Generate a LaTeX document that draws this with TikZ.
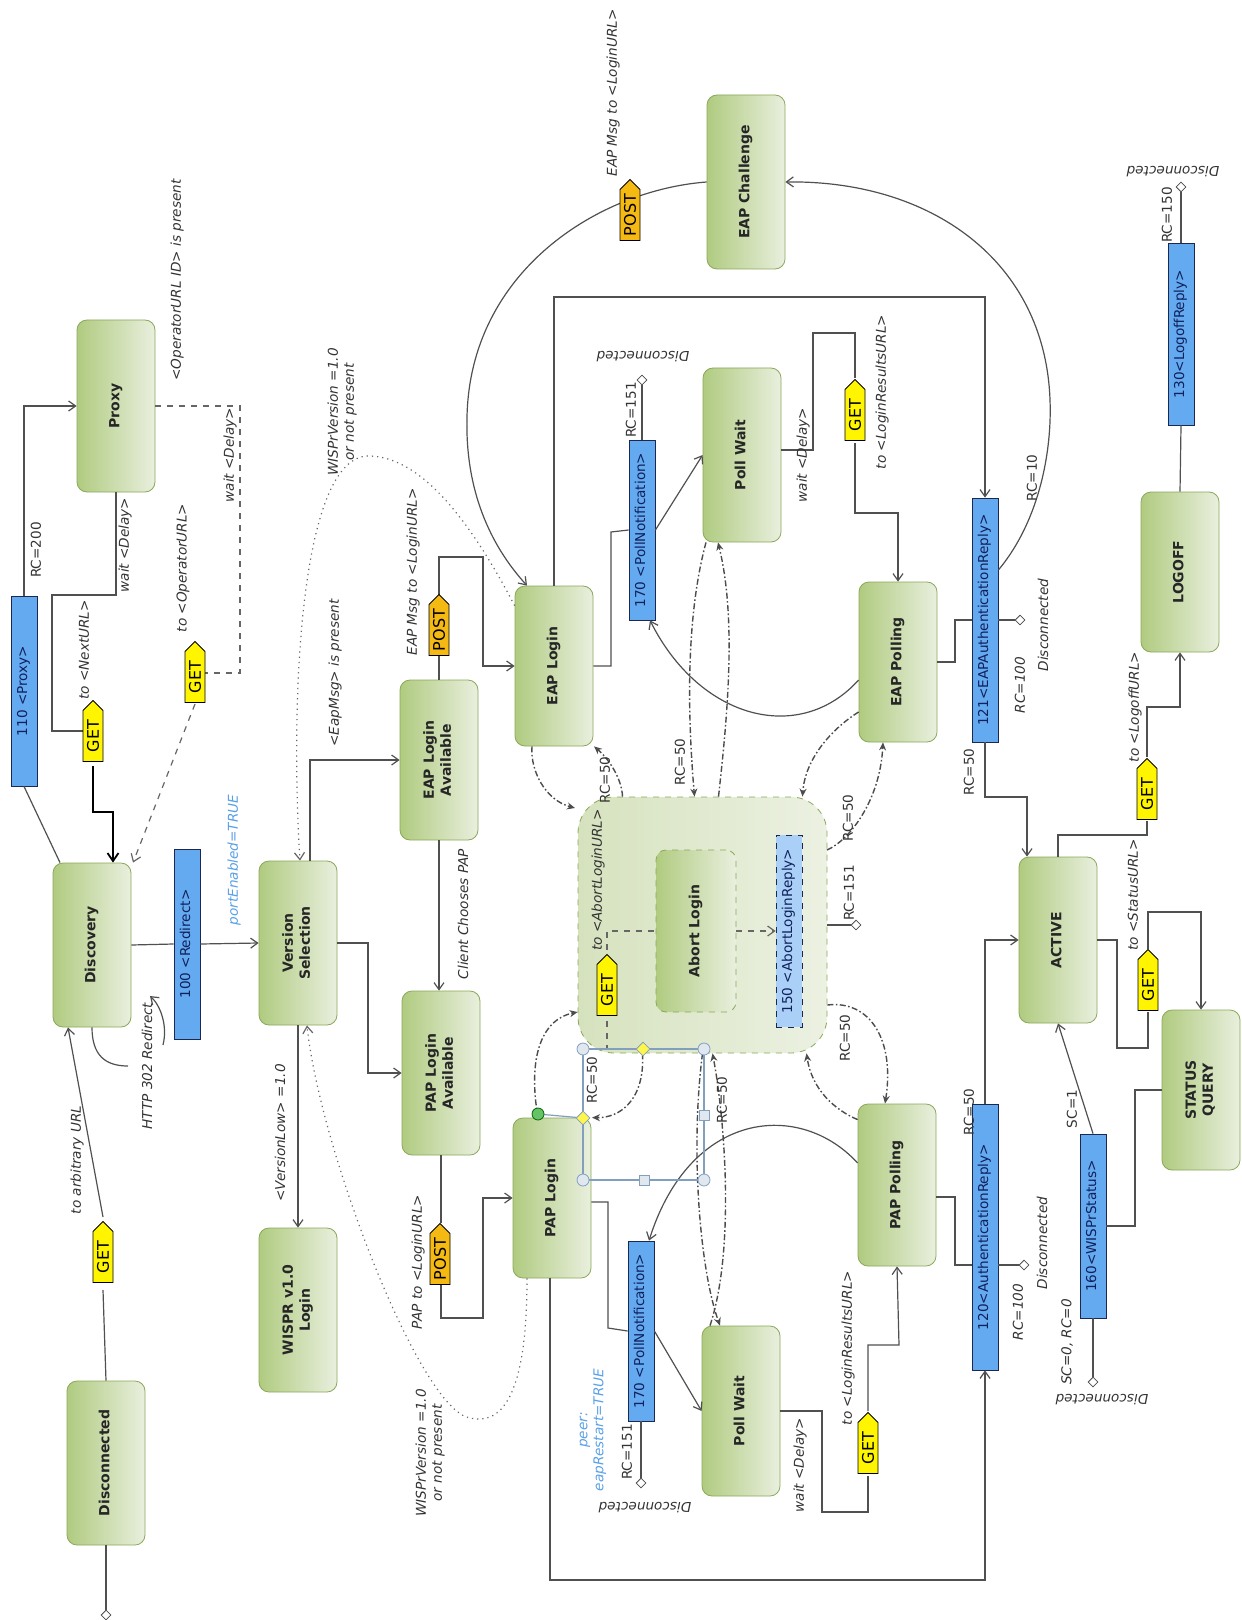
\documentclass[tikz,border=0pt]{standalone}
\usepackage{fontspec}
\setmainfont{DejaVu Sans}
\usetikzlibrary{arrows.meta,shapes.geometric,shapes.symbols}
\definecolor{stdark}{RGB}{176,203,128}
\definecolor{stlight}{RGB}{233,239,222}
\definecolor{stline}{RGB}{138,168,88}
\definecolor{boxdark}{RGB}{214,226,190}
\definecolor{boxlight}{RGB}{236,241,226}
\definecolor{msgfill}{RGB}{100,170,240}
\definecolor{msgline}{RGB}{28,40,80}
\definecolor{msgtext}{RGB}{16,32,90}
\definecolor{getfill}{RGB}{255,245,0}
\definecolor{postfill}{RGB}{245,185,20}
\definecolor{lnc}{RGB}{80,80,80}
\definecolor{hint}{RGB}{90,160,230}
\definecolor{selc}{RGB}{130,160,190}
\def\rottext#1{\rotatebox{90}{\begin{tabular}{@{}c@{}}#1\end{tabular}}}
\tikzset{
 state/.style={draw=stline, rounded corners=5pt, left color=stdark, right color=stlight, minimum width=39pt, minimum height=82pt, inner sep=1pt, font=\fontsize{7}{8.4}\selectfont\bfseries, text=black!85},
 abortbox/.style={draw=stline, dashed, rounded corners=18pt, left color=boxdark, right color=boxlight, minimum width=124.5pt, minimum height=128pt},
 msg/.style={draw=msgline, fill=msgfill, minimum width=13pt, inner sep=0.5pt, font=\fontsize{6.8}{8}\selectfont, text=msgtext},
 tag/.style={shape=signal, signal to=north, signal pointer angle=90, draw=black, minimum width=10pt, minimum height=29pt, inner sep=0.5pt, font=\fontsize{8}{9}\selectfont},
 gettag/.style={tag, fill=getfill},
 posttag/.style={tag, fill=postfill},
 term/.style={diamond, draw=black!70, fill=white, inner sep=0pt, minimum size=5pt},
 lbl/.style={rotate=90, inner sep=0.5pt, font=\fontsize{6.8}{8}\selectfont\itshape, text=black!80, align=center},
 lblu/.style={rotate=90, inner sep=0.5pt, font=\fontsize{6.8}{8}\selectfont, text=black!80, align=center},
 lblr/.style={rotate=180, inner sep=0.5pt, font=\fontsize{6.8}{8}\selectfont\itshape, text=black!80},
 ln/.style={draw=lnc, line width=0.6pt},
 arr/.style={ln, -{Straight Barb[length=3.5pt,width=5pt]}},
 boldarr/.style={draw=black, line width=0.9pt, -{Straight Barb[length=4pt,width=5.5pt]}},
 dln/.style={draw=black!60, dashed, line width=0.6pt},
 darr/.style={dln, -{Straight Barb[length=3.5pt,width=5pt]}},
 dotarr/.style={draw=black!60, dotted, line width=0.6pt, -{Straight Barb[length=3.5pt,width=5pt]}},
 carr/.style={draw=black!70, dash pattern=on 3pt off 1.2pt on 0.8pt off 1.2pt, line width=0.7pt, -{Stealth[length=4pt,width=3.5pt]}},
 hcirc/.style={circle, draw=selc, fill=selc!25, inner sep=0pt, minimum size=6pt},
 hdiam/.style={diamond, draw=selc, fill=yellow!70, inner sep=0pt, minimum size=7pt},
 hsq/.style={rectangle, draw=selc, fill=selc!25, inner sep=0pt, minimum size=5pt}
}
\begin{document}
\begin{tikzpicture}[x=0.5pt,y=-0.5pt]
\useasboundingbox (0,0) rectangle (1241,1620);
\node[abortbox] (abox) at (702.5,925) {};
\node[state] (dis) at (106,1463) {\rottext{Disconnected}};
\node[state] (wispr) at (298,1310) {\rottext{WISPR v1.0\\Login}};
\node[state] (discov) at (92,945) {\rottext{Discovery}};
\node[state] (vsel) at (298,943) {\rottext{Version\\Selection}};
\node[state, minimum height=86pt] (proxy) at (116,406) {\rottext{Proxy}};
\node[state, minimum height=80pt] (eapav) at (439,760) {\rottext{EAP Login\\Available}};
\node[state] (papav) at (441,1073) {\rottext{PAP Login\\Available}};
\node[state, minimum height=80pt] (eaplog) at (554,666) {\rottext{EAP Login}};
\node[state, minimum height=80pt] (paplog) at (552,1198) {\rottext{PAP Login}};
\node[state, minimum height=87pt] (pwup) at (742,455) {\rottext{Poll Wait}};
\node[state, minimum height=85pt] (pwlo) at (741,1411) {\rottext{Poll Wait}};
\node[state, minimum height=80pt] (eappol) at (898,662) {\rottext{EAP Polling}};
\node[state, minimum height=81pt] (pappol) at (897,1185) {\rottext{PAP Polling}};
\node[state, minimum height=87pt] (eapch) at (746,182) {\rottext{EAP Challenge}};
\node[state, minimum height=83pt] (active) at (1058,940) {\rottext{ACTIVE}};
\node[state, minimum height=80pt] (statq) at (1201,1090) {\rottext{STATUS\\QUERY}};
\node[state, minimum height=80pt] (logoff) at (1180,572) {\rottext{LOGOFF}};
\node[state, dashed, minimum width=40pt, minimum height=81pt] (abort) at (696,931) {\rottext{Abort Login}};

\node[msg, minimum height=95pt] (m110) at (24,691) {\rottext{110 <Proxy>}};
\node[msg, minimum height=95pt] (m100) at (187,944) {\rottext{100 <Redirect>}};
\node[msg, minimum height=90pt] (m170a) at (642,530) {\rottext{170 <PollNotification>}};
\node[msg, minimum height=90pt] (m170b) at (641,1331) {\rottext{170 <PollNotification>}};
\node[msg, minimum height=122pt] (m121) at (985,620) {\rottext{121<EAPAuthenticationReply>}};
\node[msg, minimum height=133pt] (m120) at (985,1237) {\rottext{120<AuthenticationReply>}};
\node[msg, minimum height=92pt] (m160) at (1093,1226) {\rottext{160<WISPrStatus>}};
\node[msg, minimum height=91pt] (m130) at (1181,334) {\rottext{130<LogoffReply>}};
\node[msg, dashed, fill=msgfill!55, minimum height=96pt] (m150) at (789,931) {\rottext{150 <AbortLoginReply>}};

\node[term] (t0) at (106,1615) {};
\node[term] (t1) at (642,380) {};
\node[term] (t2) at (641,1483) {};
\node[term] (t3) at (1020,620) {};
\node[term] (t4) at (1024,1265) {};
\node[term] (t5) at (1093,1382) {};
\node[term] (t6) at (1181,187) {};
\node[term] (t7) at (856,925) {};

% connectors
\draw[ln] (dis.south) -- (t0);
\draw[ln] (dis.north) -- (103,1290);
\draw[arr] (103,1217) -- ([xshift=-12pt]discov.south);
\draw[ln] ([xshift=-16pt]discov.north) -- (m110.south);
\draw[arr] (m110.north) |- (proxy.west);
\draw[ln] (proxy.south) -- (116,595) -- (52,595) |- (93,731);
\draw[boldarr] (93,766) |- (113,812) -- ([xshift=10.5pt]discov.north);
\draw[dln] (proxy.east) -| (240,673) -- (205,673);
\draw[darr] (195,704) -- ([xshift=20.5pt]discov.north);
\draw[ln] (discov.east) -- (m100.west);
\draw[arr] (m100.east) -- (vsel.west);
\draw[ln] (discov.south) .. controls (92,1055) and (105,1066) .. (128,1066);
\draw[arr] (163,1045) .. controls (168,1025) and (160,1005) .. (150,996);
\draw[arr] (vsel.south) -- (wispr.north);
\draw[dotarr] ([xshift=-12.5pt]paplog.south) .. controls (527,1400) and (500,1425) .. (470,1418) .. controls (420,1410) and (320,1150) .. ([xshift=4.5pt]vsel.south);
\draw[dotarr] ([yshift=-10pt]eaplog.north west) .. controls (470,520) and (420,455) .. (367,456) .. controls (300,460) and (290,700) .. ([xshift=1pt]vsel.north);
\draw[arr] ([xshift=6pt]vsel.north) |- (eapav.west);
\draw[arr] (vsel.east) -- (368,943) |- (papav.west);
\draw[arr] (eapav.south) -- (eapav.south |- papav.north);
\draw[ln] (eapav.north) -- (439,654);
\draw[arr] (439,595) |- (483,557) |- (eaplog.west);
\draw[ln] (papav.south) -- (441,1223);
\draw[arr] (441,1284) |- (483,1318) |- (paplog.west);
\draw[ln] (eaplog.east) -| (611,532) -- (m170a.west);
\draw[arr] (m170a.east) -- (pwup.west);
\draw[ln] (m170a.north) -- (t1);
\draw[ln] ([yshift=2.5pt]pwup.east) -| (813,333) -| (855,378);
\draw[arr] (855,443) |- (898,513) -- (eappol.north);
\draw[ln] (eappol.east) -| (955,620) -- (m121.west);
\draw[ln] (m121.east) -- (t3);
\draw[arr] (eaplog.north) |- (985,297) -- (m121.north);
\draw[arr] ([yshift=25pt]m121.east) .. controls (1040,520) and (1052,450) .. (1050,400) .. controls (1045,260) and (930,180) .. (eapch.east);
\draw[arr] (eapch.west) .. controls (600,190) and (470,270) .. (467,417) .. controls (465,490) and (490,545) .. ([xshift=-13.5pt]eaplog.north);
\draw[arr] ([yshift=-9pt]eappol.west) .. controls (800,745) and (700,720) .. ([xshift=4pt]m170a.south);
\draw[arr] ([yshift=11pt]pappol.west) .. controls (800,1100) and (690,1110) .. ([xshift=4pt]m170b.north);
\draw[ln] ([yshift=-2pt]paplog.east) -| (608,1328) -- (m170b.west);
\draw[arr] (m170b.east) -- (pwlo.west);
\draw[ln] (m170b.south) -- (t2);
\draw[ln] (pwlo.east) -- (822,1411) |- (868,1512) -- (868,1476);
\draw[arr] (868,1411) |- (899,1345) -- (pappol.south);
\draw[ln] ([yshift=-6pt]pappol.east) -| (955,1265) -- ([yshift=-14pt]m120.west);
\draw[ln] ([yshift=-14pt]m120.east) -- (t4);
\draw[arr] (m120.north) |- (active.west);
\draw[arr] ([xshift=-1pt]paplog.south) |- (985,1580) -- (m120.south);
\draw[arr] (m121.south) |- (1027,797) -- ([xshift=-15.5pt]active.north);
\draw[ln] (active.north) |- (1147,835) -- (1147,821);
\draw[arr] (1147,757) |- (1180,707) -- (logoff.south);
\draw[ln] (logoff.north) -- (m130.south);
\draw[ln] (m130.north) -- (t6);
\draw[ln] (active.east) -| (1117,1048) -| (1148,1012);
\draw[arr] (1148,949) -- (1148,912) -| (statq.north);
\draw[ln] (statq.west) -| (1135,1226) -- (m160.east);
\draw[arr] (m160.north) -- (active.south);
\draw[ln] (m160.south) -- (t5);
\draw[ln] (abox.east) -- (t7);

% abort box inside
\draw[dln] (607,950) |- (abort.west);
\draw[dln] (607,1021) -- (607,1049);
\draw[darr] (abort.east) -- (m150.west);

% RC=50 loops round the abort box
\draw[carr] ([xshift=-11pt]eaplog.south) .. controls (530,770) and (545,800) .. (575,808);
\draw[carr] ([xshift=-40pt]abox.north) .. controls (622,780) and (610,760) .. ([xshift=20pt]eaplog.south);
\draw[carr] ([xshift=-18pt]pwup.south) .. controls (685,620) and (688,720) .. ([xshift=-4pt]abox.north);
\draw[carr] ([xshift=8pt]abox.north) .. controls (727,720) and (737,620) .. ([xshift=-12pt]pwup.south);
\draw[carr] ([yshift=-25pt]eappol.west) .. controls (830,730) and (805,760) .. ([xshift=50pt]abox.north);
\draw[carr] (827,850) .. controls (850,840) and (880,800) .. ([xshift=-7.5pt]eappol.south);
\draw[carr] ([yshift=-40pt]abox.east) .. controls (870,1000) and (895,1040) .. ([xshift=-6pt]pappol.north);
\draw[carr] ([yshift=-8pt]pappol.north west) .. controls (835,1110) and (812,1090) .. ([xshift=52pt]abox.south);
\draw[carr] (abox.south) .. controls (690,1150) and (700,1270) .. ([xshift=-10.5pt]pwlo.north);
\draw[carr] ([xshift=-15.5pt]pwlo.north) .. controls (735,1250) and (725,1120) .. ([xshift=5pt]abox.south);
\draw[carr] ([xshift=-7pt]paplog.north) .. controls (528,1060) and (540,1020) .. ([yshift=-43.5pt]abox.west);
\draw[carr] ([xshift=-30pt]abox.south) .. controls (645,1100) and (620,1118) .. ([xshift=20pt]paplog.north);

% selection handles
\draw[selc, line width=0.6pt] (583,1049) rectangle (704,1180);
\draw[selc, line width=0.6pt] (538,1114) -- (583,1118);
\node[hcirc] (h1) at (583,1049) {};
\node[hcirc] (h2) at (704,1049) {};
\node[hcirc] (h3) at (583,1180) {};
\node[hcirc] (h4) at (704,1180) {};
\node[hdiam] (h5) at (643,1049) {};
\node[hdiam] (h6) at (583,1118) {};
\node[hsq] (h7) at (644,1180) {};
\node[hsq] (h8) at (704,1115) {};
\node[hcirc, fill=green!60!black!60, draw=green!40!black] (h9) at (538,1114) {};

% method tags
\node[gettag] (g1) at (103,1257) {\rotatebox{90}{GET}};
\node[gettag] (g2) at (93,736) {\rotatebox{90}{GET}};
\node[gettag] (g3) at (195,677) {\rotatebox{90}{GET}};
\node[posttag] (p1) at (439,630) {\rotatebox{90}{POST}};
\node[posttag] (p2) at (440,1259) {\rotatebox{90}{POST}};
\node[posttag] (p3) at (630,215) {\rotatebox{90}{POST}};
\node[gettag] (g4) at (855,415) {\rotatebox{90}{GET}};
\node[gettag] (g5) at (868,1448) {\rotatebox{90}{GET}};
\node[gettag] (g6) at (607,990) {\rotatebox{90}{GET}};
\node[gettag] (g7) at (1147,794) {\rotatebox{90}{GET}};
\node[gettag] (g8) at (1148,985) {\rotatebox{90}{GET}};

% labels
\node[lbl] (l1) at (77,1160) {to arbitrary URL};
\node[lblu] (l2) at (36,550) {RC=200};
\node[lbl] (l3) at (125,545) {wait <Delay>};
\node[lbl] (l4) at (84,650) {to <NextURL>};
\node[lbl] (l5) at (230,455) {wait <Delay>};
\node[lbl] (l6) at (183,568) {to <OperatorURL>};
\node[lbl] (l7) at (177,280) {<OperatorURL ID> is present};
\node[lbl, text=hint] (l8) at (234,860) {portEnabled=TRUE};
\node[lbl] (l9) at (147,1066) {HTTP 302 Redirect};
\node[lbl] (l10) at (280,1133) {<VersionLow> =1.0};
\node[lbl] (l11) at (342,412) {WISPrVersion =1.0\\or not present};
\node[lbl] (l12) at (430,1453) {WISPrVersion =1.0\\or not present};
\node[lbl] (l13) at (335,673) {<EapMsg> is present};
\node[lbl] (l14) at (463,914) {Client Chooses PAP};
\node[lbl] (l15) at (413,572) {EAP Msg to <LoginURL>};
\node[lbl] (l16) at (418,1262) {PAP to <LoginURL>};
\node[lbl] (l17) at (613,93) {EAP Msg to <LoginURL>};
\node[lblu] (l18) at (631,410) {RC=151};
\node[lblr] (l19) at (643,357) {Disconnected};
\node[lbl] (l20) at (803,455) {wait <Delay>};
\node[lbl] (l21) at (882,392) {to <LoginResultsURL>};
\node[lblu] (l22) at (1032,478) {RC=10};
\node[lbl] (l23) at (1043,625) {Disconnected};
\node[lbl] (l24) at (1020,685) {RC=100};
\node[lblu] (l25) at (969,772) {RC=50};
\node[lblu] (l26) at (605,780) {RC=50};
\node[lblu] (l27) at (680,762) {RC=50};
\node[lblu] (l28) at (848,818) {RC=50};
\node[lbl] (l29) at (598,880) {to <AbortLoginURL>};
\node[lblu] (l30) at (849,893) {RC=151};
\node[lblu] (l31) at (845,1038) {RC=50};
\node[lblu] (l32) at (592,1080) {RC=50};
\node[lblu] (l33) at (722,1100) {RC=50};
\node[lblu] (l34) at (627,1452) {RC=151};
\node[lblr] (l35) at (645,1508) {Disconnected};
\node[lbl, text=hint] (l36) at (593,1430) {peer:\\eapRestart=TRUE};
\node[lbl] (l37) at (800,1465) {wait <Delay>};
\node[lbl] (l38) at (848,1348) {to <LoginResultsURL>};
\node[lblu] (l39) at (969,1112) {RC=50};
\node[lbl] (l40) at (1018,1312) {RC=100};
\node[lbl] (l41) at (1042,1243) {Disconnected};
\node[lblu] (l42) at (1072,1109) {SC=1};
\node[lbl] (l43) at (1067,1342) {SC=0, RC=0};
\node[lblr] (l44) at (1102,1400) {Disconnected};
\node[lbl] (l45) at (1135,707) {to <LogoffURL>};
\node[lbl] (l46) at (1133,895) {to <StatusURL>};
\node[lblu] (l47) at (1167,215) {RC=150};
\node[lblr] (l48) at (1173,172) {Disconnected};
\end{tikzpicture}
\end{document}
